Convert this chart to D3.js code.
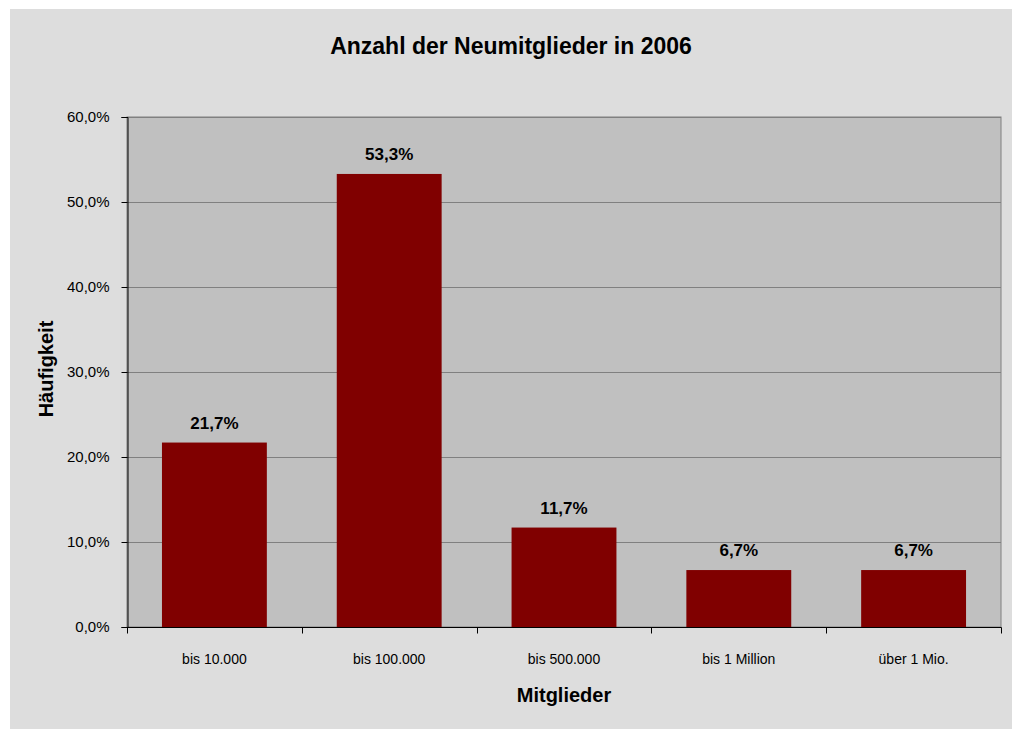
<!DOCTYPE html>
<html>
<head>
<meta charset="utf-8">
<script src="https://cdn.jsdelivr.net/npm/d3@7"></script>
<style>
  body { margin: 0; background: #ffffff; }
  text { font-family: "Liberation Sans Narrow", "Arial Narrow", "Liberation Sans", Arial, sans-serif; fill: #000; }
</style>
</head>
<body>
<div id="chart"></div>
<script>
var w = 1012;
var h = 729;

var categories = ["bis 10.000", "bis 100.000", "bis 500.000", "bis 1 Million", "über 1 Mio."];
var values = [21.7, 53.3, 11.7, 6.7, 6.7];
var yTicks = [0, 10, 20, 30, 40, 50, 60];

var plot = {left: 127, top: 117, right: 1001, bottom: 627};

var fmt = function(v) { return v.toFixed(1).replace(".", ",") + "%"; };

var svg = d3.select("#chart")
            .append("svg")
            .attr("width", w)
            .attr("height", h);

// outer chart area
svg.append("rect")
   .attr("x", 10)
   .attr("y", 9)
   .attr("width", w - 10)
   .attr("height", h - 9)
   .attr("fill", "#dddddd");

var xScale = d3.scaleBand()
               .domain(categories)
               .range([plot.left, plot.right])
               .paddingInner(0.4)
               .paddingOuter(0.2);

var yScale = d3.scaleLinear()
               .domain([0, 60])
               .range([plot.bottom, plot.top]);

// plot area
svg.append("rect")
   .attr("x", plot.left)
   .attr("y", plot.top)
   .attr("width", plot.right - plot.left)
   .attr("height", plot.bottom - plot.top)
   .attr("fill", "#c0c0c0")
   .attr("stroke", "#808080")
   .attr("stroke-width", 1);

// gridlines
svg.selectAll("line.grid")
   .data(yTicks.slice(1))
   .enter()
   .append("line")
   .attr("class", "grid")
   .attr("x1", plot.left)
   .attr("x2", plot.right)
   .attr("y1", function(d) { return Math.round(yScale(d)) + 0.5; })
   .attr("y2", function(d) { return Math.round(yScale(d)) + 0.5; })
   .attr("stroke", "#808080")
   .attr("stroke-width", 1);

// bars
svg.selectAll("rect.bar")
   .data(values)
   .enter()
   .append("rect")
   .attr("class", "bar")
   .attr("x", function(d, i) { return xScale(categories[i]); })
   .attr("y", function(d) { return yScale(d); })
   .attr("width", xScale.bandwidth())
   .attr("height", function(d) { return yScale(0) - yScale(d); })
   .attr("fill", "#800000");

// data labels
svg.selectAll("text.label")
   .data(values)
   .enter()
   .append("text")
   .attr("class", "label")
   .attr("x", function(d, i) { return xScale(categories[i]) + xScale.bandwidth() / 2; })
   .attr("y", function(d) { return yScale(d) - 14; })
   .attr("text-anchor", "middle")
   .attr("font-size", "17px")
   .attr("font-weight", "bold")
   .text(fmt);

// y axis
var yAxis = d3.axisLeft(yScale)
              .tickValues(yTicks)
              .tickSize(6)
              .tickPadding(12)
              .tickFormat(fmt);

var gy = svg.append("g")
            .attr("transform", "translate(" + (plot.left + 0.5) + ",0)")
            .call(yAxis);
gy.select(".domain").attr("stroke", "#000");
gy.selectAll(".tick line").attr("stroke", "#000");
gy.selectAll(".tick text")
  .attr("font-size", "15px")
  .attr("font-family", null)
  .attr("fill", "#000");

// x axis: ticks on category boundaries
var boundaries = d3.range(categories.length + 1).map(function(i) {
  return plot.left + i * xScale.step();
});

var gx = svg.append("g")
            .attr("transform", "translate(0," + (plot.bottom + 0.5) + ")");
gx.append("line")
  .attr("x1", plot.left)
  .attr("x2", plot.right + 0.5)
  .attr("stroke", "#000");
gx.selectAll("line.tk")
  .data(boundaries)
  .enter()
  .append("line")
  .attr("class", "tk")
  .attr("x1", function(d) { return Math.round(d) + 0.5; })
  .attr("x2", function(d) { return Math.round(d) + 0.5; })
  .attr("y1", 0)
  .attr("y2", 6)
  .attr("stroke", "#000");
gx.selectAll("text")
  .data(categories)
  .enter()
  .append("text")
  .attr("x", function(d) { return xScale(d) + xScale.bandwidth() / 2; })
  .attr("y", 36)
  .attr("text-anchor", "middle")
  .attr("font-size", "14px")
  .text(function(d) { return d; });

// title
svg.append("text")
   .attr("x", 511)
   .attr("y", 54)
   .attr("text-anchor", "middle")
   .attr("font-size", "23px")
   .attr("font-weight", "bold")
   .text("Anzahl der Neumitglieder in 2006");

// axis titles
svg.append("text")
   .attr("x", 564)
   .attr("y", 702)
   .attr("text-anchor", "middle")
   .attr("font-size", "20px")
   .attr("font-weight", "bold")
   .text("Mitglieder");

svg.append("text")
   .attr("transform", "translate(53,369) rotate(-90)")
   .attr("text-anchor", "middle")
   .attr("font-size", "20px")
   .attr("font-weight", "bold")
   .text("Häufigkeit");
</script>
</body>
</html>
